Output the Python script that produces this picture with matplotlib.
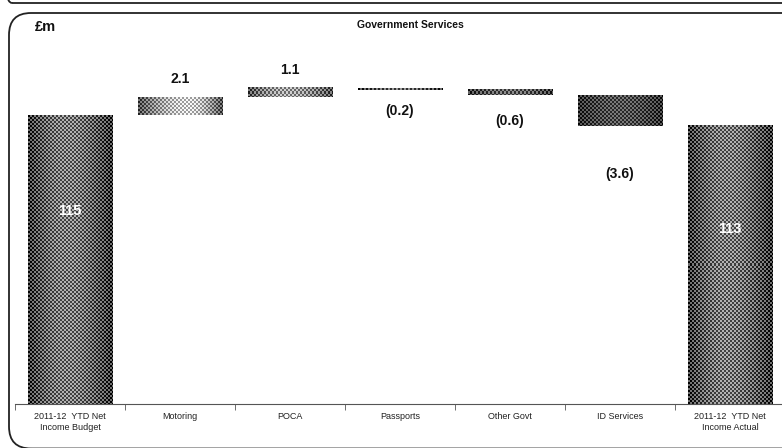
import numpy as np
import matplotlib
matplotlib.use("Agg")
import matplotlib.pyplot as plt
from matplotlib.patches import FancyBboxPatch

plt.rcParams['font.family'] = ['Liberation Sans', 'DejaVu Sans']

categories = ["2011-12  YTD Net\nIncome Budget", "Motoring", "POCA", "Passports",
              "Other Govt", "ID Services", "2011-12  YTD Net\nIncome Actual"]
budget = 114.6
changes = [2.1, 1.1, -0.2, -0.6, -3.6]
actual = 113.4
change_labels = ["2.1", "1.1", "(0.2)", "(0.6)", "(3.6)"]
total_labels = ["115", "113"]

# shading per bar: (edge grey, centre grey, peak position, checker amplitude)
shades = [(0.20, 0.48, 0.45, 0.22),
          (0.30, 0.80, 0.60, 0.18),
          (0.30, 0.62, 0.45, 0.20),
          (0.20, 0.40, 0.50, 0.20),
          (0.22, 0.38, 0.50, 0.18),
          (0.18, 0.32, 0.50, 0.16),
          (0.20, 0.48, 0.45, 0.22)]
# label offsets in points (positive = above top, negative = below bottom)
label_offsets = [8, 8, -10, -14, -30]

fig = plt.figure(figsize=(7.82, 4.48), dpi=100)
ax = fig.add_axes([15 / 782, 44 / 448, 770 / 782, 364 / 448])
ax.set_xlim(-0.5, 6.5)
ax.set_ylim(80.9, 123.4)

# waterfall geometry
bottoms, tops = [], []
running = budget
for c in changes:
    lo, hi = sorted([running, running + c])
    bottoms.append(lo)
    tops.append(hi)
    running += c
ymin = ax.get_ylim()[0]
rects = [(ymin, budget)] + list(zip(bottoms, tops)) + [(ymin, actual)]

width = 0.77
fig.canvas.draw()
tr = ax.transData
for i, (lo, hi) in enumerate(rects):
    x0, x1 = i - width / 2, i + width / 2
    p0 = tr.transform((x0, lo))
    p1 = tr.transform((x1, hi))
    w = max(int(round(p1[0] - p0[0])), 2)
    h = max(int(round(p1[1] - p0[1])), 2)
    edge, centre, peak, amp = shades[i]
    t = np.linspace(0, 1, w)
    prof = np.where(t < peak, t / peak, (1 - t) / (1 - peak))
    g = edge + (centre - edge) * np.sin(prof * np.pi / 2)
    jj, ii = np.meshgrid(np.arange(w), np.arange(h))
    checker = ((jj // 2 + ii // 2) % 2) * 2 - 1
    img = np.clip(g[None, :] + amp * checker, 0, 1)
    ax.imshow(img, cmap='gray', vmin=0, vmax=1, extent=(x0, x1, lo, hi),
              aspect='auto', interpolation='nearest', zorder=2)

# value labels for the movements
for k, (c, lab) in enumerate(zip(changes, change_labels)):
    i = k + 1
    lo, hi = rects[i]
    off = label_offsets[k]
    y = hi if off > 0 else lo
    ax.annotate(lab, (i, y), xytext=(0, off), textcoords='offset points',
                ha='center', va='bottom' if off > 0 else 'top',
                fontsize=10, fontweight='bold', color='#111111')

# totals written inside the end bars
for i, val, lab, frac in [(0, budget, total_labels[0], 0.67),
                          (6, actual, total_labels[1], 0.63)]:
    ax.text(i, ymin + (val - ymin) * frac, lab, ha='center', va='center',
            fontsize=10.5, fontweight='bold', color='white')

ax.set_xticks(np.arange(len(categories)))
ax.set_xticklabels(categories, fontsize=6.5, color='#222222', linespacing=1.3)
ax.set_xticks(np.arange(-0.5, 7, 1), minor=True)
ax.tick_params(axis='x', which='major', length=0, pad=6)
ax.tick_params(axis='x', which='minor', length=4, color='#555555')
ax.set_yticks([])
for s in ['top', 'right', 'left']:
    ax.spines[s].set_visible(False)
ax.spines['bottom'].set_color('#555555')
ax.spines['bottom'].set_linewidth(0.8)

fig.text(410 / 782, 1 - 25 / 448, "Government Services", ha='center', va='center',
         fontsize=7.5, fontweight='bold', color='#111111')
fig.text(35 / 782, 1 - 27 / 448, "£m", ha='left', va='center',
         fontsize=10.5, fontweight='bold', color='#111111')

# rounded panel border, running off the right and bottom edges (inches)
frame = FancyBboxPatch((0.09, -0.005), 8.5, 4.48 - 0.13 + 0.005,
                       boxstyle="round,pad=0,rounding_size=0.22",
                       transform=fig.dpi_scale_trans, fill=False,
                       edgecolor='#222222', linewidth=1.3)
fig.patches.append(frame)
# bottom of the panel above
above = FancyBboxPatch((0.04, 4.45), 8.5, 0.5,
                       boxstyle="round,pad=0,rounding_size=0.08",
                       transform=fig.dpi_scale_trans, fill=False,
                       edgecolor='#222222', linewidth=1.3)
fig.patches.append(above)

fig.savefig("out.png", dpi=100)
